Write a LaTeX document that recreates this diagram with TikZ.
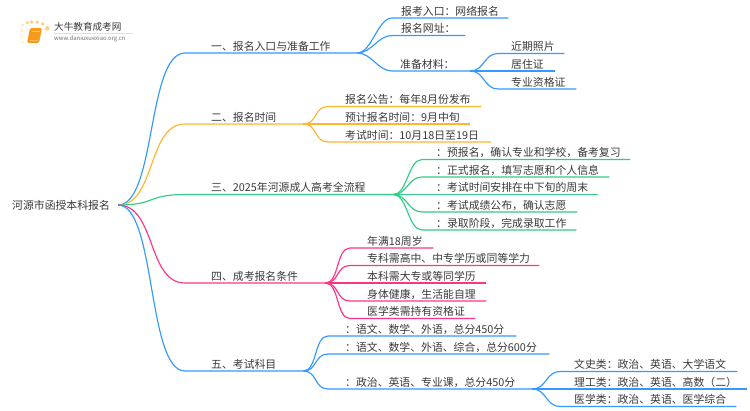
\documentclass[tikz,border=0pt]{standalone}
\usepackage{fontspec}
\setmainfont{Noto Sans CJK SC}
\definecolor{lineblue}{HTML}{3399FF}
\definecolor{lineorange}{HTML}{FFB52E}
\definecolor{linegreen}{HTML}{33CC85}
\definecolor{linepink}{HTML}{FF3385}
\definecolor{booktext}{HTML}{3A3A3A}
\definecolor{sunlight}{HTML}{FFD078}
\definecolor{sunpale}{HTML}{FFE6B5}
\definecolor{bookfront}{HTML}{F59A1B}
\definecolor{bookback}{HTML}{FFC35A}
\tikzset{
	leaf/.style 2 args={anchor=south west,inner sep=0pt,text width=#1pt,align=left,
		text height=8.5pt,text depth=2.8pt,execute at begin node={\hspace*{#2pt}}},
	link/.style={line width=1.15pt},
}
\begin{document}
\begin{tikzpicture}[
	x=1pt,y=-1pt,
	font=\fontsize{10.85pt}{12pt}\selectfont,
	text=booktext,
	]
	\useasboundingbox (0,0) rectangle (750,410);
	\fill[white] (0,0) rectangle (750,410);
	% logo
	\foreach \px/\py/\pr/\pc in {22.7/25/1.5/sunpale,27.3/22.7/1.7/sunlight,31.7/22/1.8/sunlight,37.3/22/1.9/sunlight,42.7/24/1.9/sunlight,47.3/28.3/2.2/sunlight,22.3/30.7/1.3/sunpale,22/36.7/1.2/sunpale,23.3/42.3/1/sunpale}
		\fill[\pc] (\px,\py) circle (\pr);
	\fill[rounded corners=1.5pt,bookfront] (30,28) -- (42,28) -- (39,43) -- (27,43) -- cycle;
	\draw[bookback,line width=0.8pt] (31.5,31) -- (40,31) (29.5,40.5) -- (38,40.5);
	\node[inner sep=0pt,anchor=west,font=\fontsize{9.6pt}{11pt}\selectfont] (logoname) at (54,27) {大牛教育成考网};
	\node[inner sep=0pt,anchor=west,font=\fontsize{5.9pt}{7pt}\selectfont,text=black!55] (logourl) at (54,38.5) {www.daniuxuexiao.org.cn};
	\draw[black!12,line width=0.5pt] (logoname.south west |- 0,33) -- (133,33);

	\node [anchor=west,inner xsep=8pt,inner ysep=0pt] (root) at (4,205) {河源市函授本科报名};

	\node [leaf={172}{26}] (t1) at (185,53) {一、报名入口与准备工作};
	\node [leaf={118}{26}] (t2) at (185,124) {二、报名时间};
	\node [leaf={208}{26}] (t3) at (185,194.5) {三、2025年河源成人高考全流程};
	\node [leaf={140}{26}] (t4) at (185,283) {四、成考报名条件};
	\node [leaf={118}{26}] (t5) at (185,371) {五、考试科目};

	\node [leaf={116}{9}] (t11) at (392,18) {报考入口：网络报名};
	\node [leaf={73}{9}] (t12) at (392,35.5) {报名网址：};
	\node [leaf={78}{8}] (t13) at (392,71) {准备材料：};
	\node [leaf={66}{13}] (t131) at (498,53.5) {近期照片};
	\node [leaf={57}{13}] (t132) at (498,71) {居住证};
	\node [leaf={78}{13}] (t133) at (498,89) {专业资格证};

	\node [leaf={153}{17}] (t21) at (328,106.5) {报名公告：每年8月份发布};
	\node [leaf={142}{17}] (t22) at (328,124) {预计报名时间：9月中旬};
	\node [leaf={163}{17}] (t23) at (328,142) {考试时间：10月18日至19日};

	\node [leaf={208}{14}] (t31) at (422,159.5) {：预报名，确认专业和学校，备考复习};
	\node [leaf={187}{14}] (t32) at (422,177) {：正式报名，填写志愿和个人信息};
	\node [leaf={176}{14}] (t33) at (422,194.5) {：考试时间安排在中下旬的周末};
	\node [leaf={155}{14}] (t34) at (422,212) {：考试成绩公布，确认志愿};
	\node [leaf={154}{14}] (t35) at (422,230) {：录取阶段，完成录取工作};

	\node [leaf={83}{17}] (t41) at (350,248) {年满18周岁};
	\node [leaf={189}{17}] (t42) at (350,265.5) {专科需高中、中专学历或同等学力};
	\node [leaf={136}{17}] (t43) at (350,283) {本科需大专或等同学历};
	\node [leaf={136}{17}] (t44) at (350,301) {身体健康，生活能自理};
	\node [leaf={125}{17}] (t45) at (350,318.5) {医学类需持有资格证};

	\node [leaf={188}{17}] (t51) at (328,336) {：语文、数学、外语，总分450分};
	\node [leaf={221}{17}] (t52) at (328,354) {：语文、数学、外语、综合，总分600分};
	\node [leaf={204}{17}] (t53) at (328,389) {：政治、英语、专业课，总分450分};
	\node [leaf={177}{14}] (t531) at (560,371.5) {文史类：政治、英语、大学语文};
	\node [leaf={187}{14}] (t532) at (560,389) {理工类：政治、英语、高数（二）};
	\node [leaf={176}{14}] (t533) at (560,406.5) {医学类：政治、英语、医学综合};

	% first level
	\draw[link,lineblue] (root.east) .. controls +(38,0) and +(-38,0) .. (t1.south west) -- (t1.south east);
	\draw[link,lineorange] (root.east) .. controls +(38,0) and +(-38,0) .. (t2.south west) -- (t2.south east);
	\draw[link,linegreen] (root.east) .. controls +(38,0) and +(-38,0) .. (t3.south west) -- (t3.south east);
	\draw[link,linepink] (root.east) .. controls +(38,0) and +(-38,0) .. (t4.south west) -- (t4.south east);
	\draw[link,lineblue] (root.east) .. controls +(38,0) and +(-38,0) .. (t5.south west) -- (t5.south east);
	% second level
	\foreach \a/\b in {t1/t11,t1/t12,t1/t13,t13/t131,t13/t132,t13/t133,t5/t51,t5/t52,t5/t53,t53/t531,t53/t532,t53/t533}
		\draw[link,lineblue] (\a.south east) .. controls +(14,0) and +(-14,0) .. (\b.south west) -- (\b.south east);
	\foreach \a/\b in {t2/t21,t2/t22,t2/t23}
		\draw[link,lineorange] (\a.south east) .. controls +(14,0) and +(-14,0) .. (\b.south west) -- (\b.south east);
	\foreach \a/\b in {t3/t31,t3/t32,t3/t33,t3/t34,t3/t35}
		\draw[link,linegreen] (\a.south east) .. controls +(14,0) and +(-14,0) .. (\b.south west) -- (\b.south east);
	\foreach \a/\b in {t4/t41,t4/t42,t4/t43,t4/t44,t4/t45}
		\draw[link,linepink] (\a.south east) .. controls +(14,0) and +(-14,0) .. (\b.south west) -- (\b.south east);
\end{tikzpicture}
\end{document}
